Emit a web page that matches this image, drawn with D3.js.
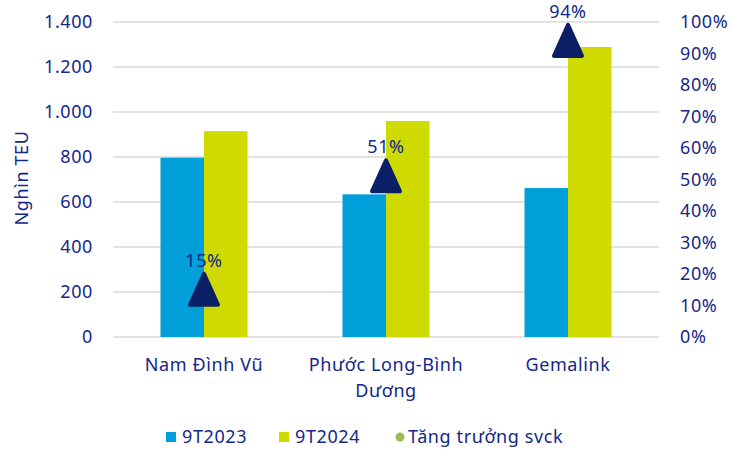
<!DOCTYPE html>
<html>
<head>
  <meta charset="utf-8">
  <title>Sản lượng cảng</title>
  <script src="https://cdn.jsdelivr.net/npm/d3@7"></script>
  <style>
    body { margin: 0; background: #fff; }
    text { font-family: "Noto Sans", sans-serif; fill: #13288a; letter-spacing: 0.6px; }
  </style>
</head>
<body>
  <script>
    // dữ liệu
    var categories = ['Nam Đình Vũ', 'Phước Long-Bình Dương', 'Gemalink'];
    var labelLines = [['Nam Đình Vũ'], ['Phước Long-Bình', 'Dương'], ['Gemalink']];
    var values2023 = [797, 634, 662];
    var values2024 = [915, 960, 1289];
    var growth = [0.15, 0.51, 0.94];
    var leftTicks = [0, 200, 400, 600, 800, 1000, 1200, 1400];
    var rightTicks = [0, 0.1, 0.2, 0.3, 0.4, 0.5, 0.6, 0.7, 0.8, 0.9, 1.0];
    var seriesNames = ['9T2023', '9T2024', 'Tăng trưởng svck'];

    var width = 734, height = 451;
    var mLeft = 113, mRight = 659, mTop = 22, mBottom = 337;
    var fmt = d3.format(',');
    var vnNum = d => fmt(d).replace(/,/g, '.');

    var svg = d3.select('body').append('svg')
      .attr('width', width)
      .attr('height', height);

    var x = d3.scaleBand().domain(categories).range([mLeft, mRight]);
    var y = d3.scaleLinear().domain([0, 1400]).range([mBottom, mTop]);
    var y2 = d3.scaleLinear().domain([0, 1]).range([mBottom, mTop]);
    var barW = 43.5;

    // lưới
    svg.append('g').selectAll('line')
      .data(leftTicks)
      .enter().append('line')
      .attr('x1', mLeft).attr('x2', mRight)
      .attr('y1', d => y(d)).attr('y2', d => y(d))
      .attr('stroke', '#d9d9d9').attr('stroke-width', 1.5);

    // trục trái
    var ax = svg.append('g')
      .attr('transform', 'translate(93,0)')
      .call(d3.axisLeft(y).tickValues(leftTicks).tickFormat(vnNum).tickSize(0).tickPadding(0));
    ax.select('.domain').remove();
    ax.selectAll('text').style('font-size', '18px').attr('fill', '#13288a');

    // trục phải
    var ax2 = svg.append('g')
      .attr('transform', 'translate(680,0)')
      .call(d3.axisRight(y2).tickValues(rightTicks).tickFormat(d3.format('.0%')).tickSize(0).tickPadding(0));
    ax2.select('.domain').remove();
    ax2.selectAll('text').style('font-size', '18px').attr('fill', '#13288a');
    ax.attr('font-family', null);
    ax2.attr('font-family', null);

    // cột
    svg.append('g').selectAll('rect')
      .data(values2023)
      .enter().append('rect')
      .attr('x', (d, i) => x(categories[i]) + x.bandwidth() / 2 - barW)
      .attr('y', d => y(d))
      .attr('width', barW)
      .attr('height', d => y(0) - y(d))
      .attr('fill', '#009fda');

    svg.append('g').selectAll('rect')
      .data(values2024)
      .enter().append('rect')
      .attr('x', (d, i) => x(categories[i]) + x.bandwidth() / 2)
      .attr('y', d => y(d))
      .attr('width', barW)
      .attr('height', d => y(0) - y(d))
      .attr('fill', '#cfda00');

    // tam giác tăng trưởng
    var tri = d3.line().curve(d3.curveLinearClosed);
    var markers = svg.append('g').selectAll('g')
      .data(growth)
      .enter().append('g')
      .attr('transform', (d, i) => 'translate(' + (x(categories[i]) + x.bandwidth() / 2) + ',' + y2(d) + ')');
    markers.append('path')
      .attr('d', tri([[0, -16], [14, 15], [-14, 15]]))
      .attr('fill', '#0b1f66')
      .attr('stroke', '#0b1f66')
      .attr('stroke-width', 4)
      .attr('stroke-linejoin', 'round');
    markers.append('text')
      .attr('y', -23)
      .attr('text-anchor', 'middle')
      .style('font-size', '18px')
      .text(d => Math.round(d * 100) + '%');

    // nhãn trục x
    svg.append('g').selectAll('text')
      .data(categories)
      .enter().append('text')
      .attr('x', d => x(d) + x.bandwidth() / 2)
      .attr('y', 371)
      .attr('text-anchor', 'middle')
      .style('font-size', '18px')
      .each(function (d, i) {
        d3.select(this).selectAll('tspan')
          .data(labelLines[i])
          .enter().append('tspan')
          .attr('x', x(d) + x.bandwidth() / 2)
          .attr('dy', (t, j) => j ? 26 : 0)
          .text(t => t);
      });

    // tiêu đề trục
    svg.append('text')
      .attr('transform', 'translate(28,178) rotate(-90)')
      .attr('text-anchor', 'middle')
      .style('font-size', '18px')
      .text('Nghìn TEU');

    // chú giải
    var legendX = [166, 279, 395];
    var legend = svg.append('g').selectAll('g')
      .data(seriesNames)
      .enter().append('g')
      .attr('transform', (d, i) => 'translate(' + legendX[i] + ',437)');
    legend.filter((d, i) => i < 2).append('rect')
      .attr('x', 0).attr('y', -5).attr('width', 10).attr('height', 10)
      .attr('fill', (d, i) => i ? '#cfda00' : '#009fda');
    legend.filter((d, i) => i === 2).append('circle')
      .attr('cx', 5).attr('cy', 0).attr('r', 4.5)
      .attr('fill', '#9bbb59');
    legend.append('text')
      .attr('x', (d, i) => i === 2 ? 13 : 16)
      .attr('y', 6)
      .style('font-size', '18px')
      .text(d => d);
  </script>
</body>
</html>
